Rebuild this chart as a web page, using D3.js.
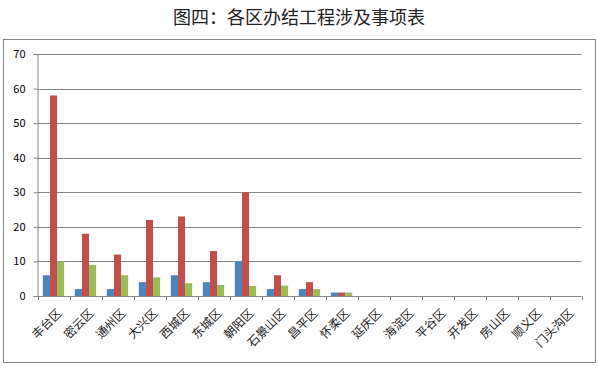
<!DOCTYPE html>
<html>
<head>
<meta charset="utf-8">
<script src="https://cdn.jsdelivr.net/npm/d3@7"></script>
<style>
  body { margin: 0; background: #fff; }
  text { font-family: "Noto Sans CJK SC", "Noto Sans", sans-serif; }
</style>
</head>
<body>
<svg id="chart" width="598" height="369"></svg>
<script>
// --- Data ---
const districts = ["丰台区", "密云区", "通州区", "大兴区", "西城区", "东城区", "朝阳区", "石景山区", "昌平区",
                   "怀柔区", "延庆区", "海淀区", "平谷区", "开发区", "房山区", "顺义区", "门头沟区"];
const seriesBlue  = [6, 2, 2, 4, 6, 4, 10, 2, 2, 1, 0, 0, 0, 0, 0, 0, 0];
const seriesRed   = [58, 18, 12, 22, 23, 13, 30, 6, 4, 1, 0, 0, 0, 0, 0, 0, 0];
const seriesGreen = [10, 9, 6, 5.4, 3.7, 3.2, 2.9, 3, 2, 1, 0, 0, 0, 0, 0, 0, 0];
const yTicks = [0, 10, 20, 30, 40, 50, 60, 70];
const title = "图四：各区办结工程涉及事项表";

const colors = ["#4F81BD", "#C0504D", "#9BBB59"];
const series = [seriesBlue, seriesRed, seriesGreen];

// --- Layout ---
const svg = d3.select("#chart");
const plot = { left: 37.5, right: 581.5, top: 54, bottom: 296 };

// outer frame
svg.append("rect")
    .attr("x", 3.5).attr("y", 39.5)
    .attr("width", 592).attr("height", 323)
    .attr("fill", "none").attr("stroke", "#868686");

svg.append("text")
    .attr("x", 299).attr("y", 24)
    .attr("text-anchor", "middle")
    .attr("font-size", 18)
    .attr("fill", "#222")
    .text(title);

// --- Scales ---
const x = d3.scaleBand().domain(districts).range([plot.left, plot.right]);
const y = d3.scaleLinear().domain([0, 70]).range([plot.bottom, plot.top]);
const barW = x.bandwidth() / 4.5;
const groupPad = barW * 0.75;

// gridlines
svg.append("g").selectAll("line")
    .data(yTicks.slice(1))
    .join("line")
    .attr("x1", plot.left).attr("x2", plot.right)
    .attr("y1", d => Math.round(y(d)) + 0.5).attr("y2", d => Math.round(y(d)) + 0.5)
    .attr("stroke", "#868686");

// bars
series.forEach((vals, s) => {
    svg.append("g").selectAll("rect")
        .data(vals)
        .join("rect")
        .attr("x", (d, i) => x(districts[i]) + groupPad + s * barW)
        .attr("y", d => y(d))
        .attr("width", barW)
        .attr("height", d => plot.bottom - y(d))
        .attr("fill", colors[s]);
});

// y axis
const yAxis = svg.append("g")
    .attr("transform", `translate(${plot.left},0)`)
    .call(d3.axisLeft(y).tickValues(yTicks).tickSize(4).tickPadding(8));
yAxis.select(".domain").attr("stroke", "#868686");
yAxis.selectAll(".tick line").attr("stroke", "#868686");
yAxis.selectAll(".tick text")
    .attr("font-family", "'DejaVu Sans', sans-serif")
    .attr("font-size", 11)
    .attr("fill", "#000");

// x axis: ticks at category boundaries
const xg = svg.append("g");
xg.append("line")
    .attr("x1", plot.left).attr("x2", plot.right)
    .attr("y1", plot.bottom + 0.5).attr("y2", plot.bottom + 0.5)
    .attr("stroke", "#868686");
xg.selectAll("line.tk")
    .data(d3.range(districts.length + 1))
    .join("line")
    .attr("class", "tk")
    .attr("x1", i => Math.round(plot.left + i * x.step()) + 0.5)
    .attr("x2", i => Math.round(plot.left + i * x.step()) + 0.5)
    .attr("y1", plot.bottom).attr("y2", plot.bottom + 4)
    .attr("stroke", "#868686");

xg.selectAll("text")
    .data(districts)
    .join("text")
    .attr("transform", d => `translate(${x(d) + x.bandwidth() / 2 + 3},${plot.bottom + 12}) rotate(-45)`)
    .attr("text-anchor", "end")
    .attr("dy", "0.7em")
    .attr("font-size", 12)
    .attr("fill", "#222")
    .text(d => d);
</script>
</body>
</html>
